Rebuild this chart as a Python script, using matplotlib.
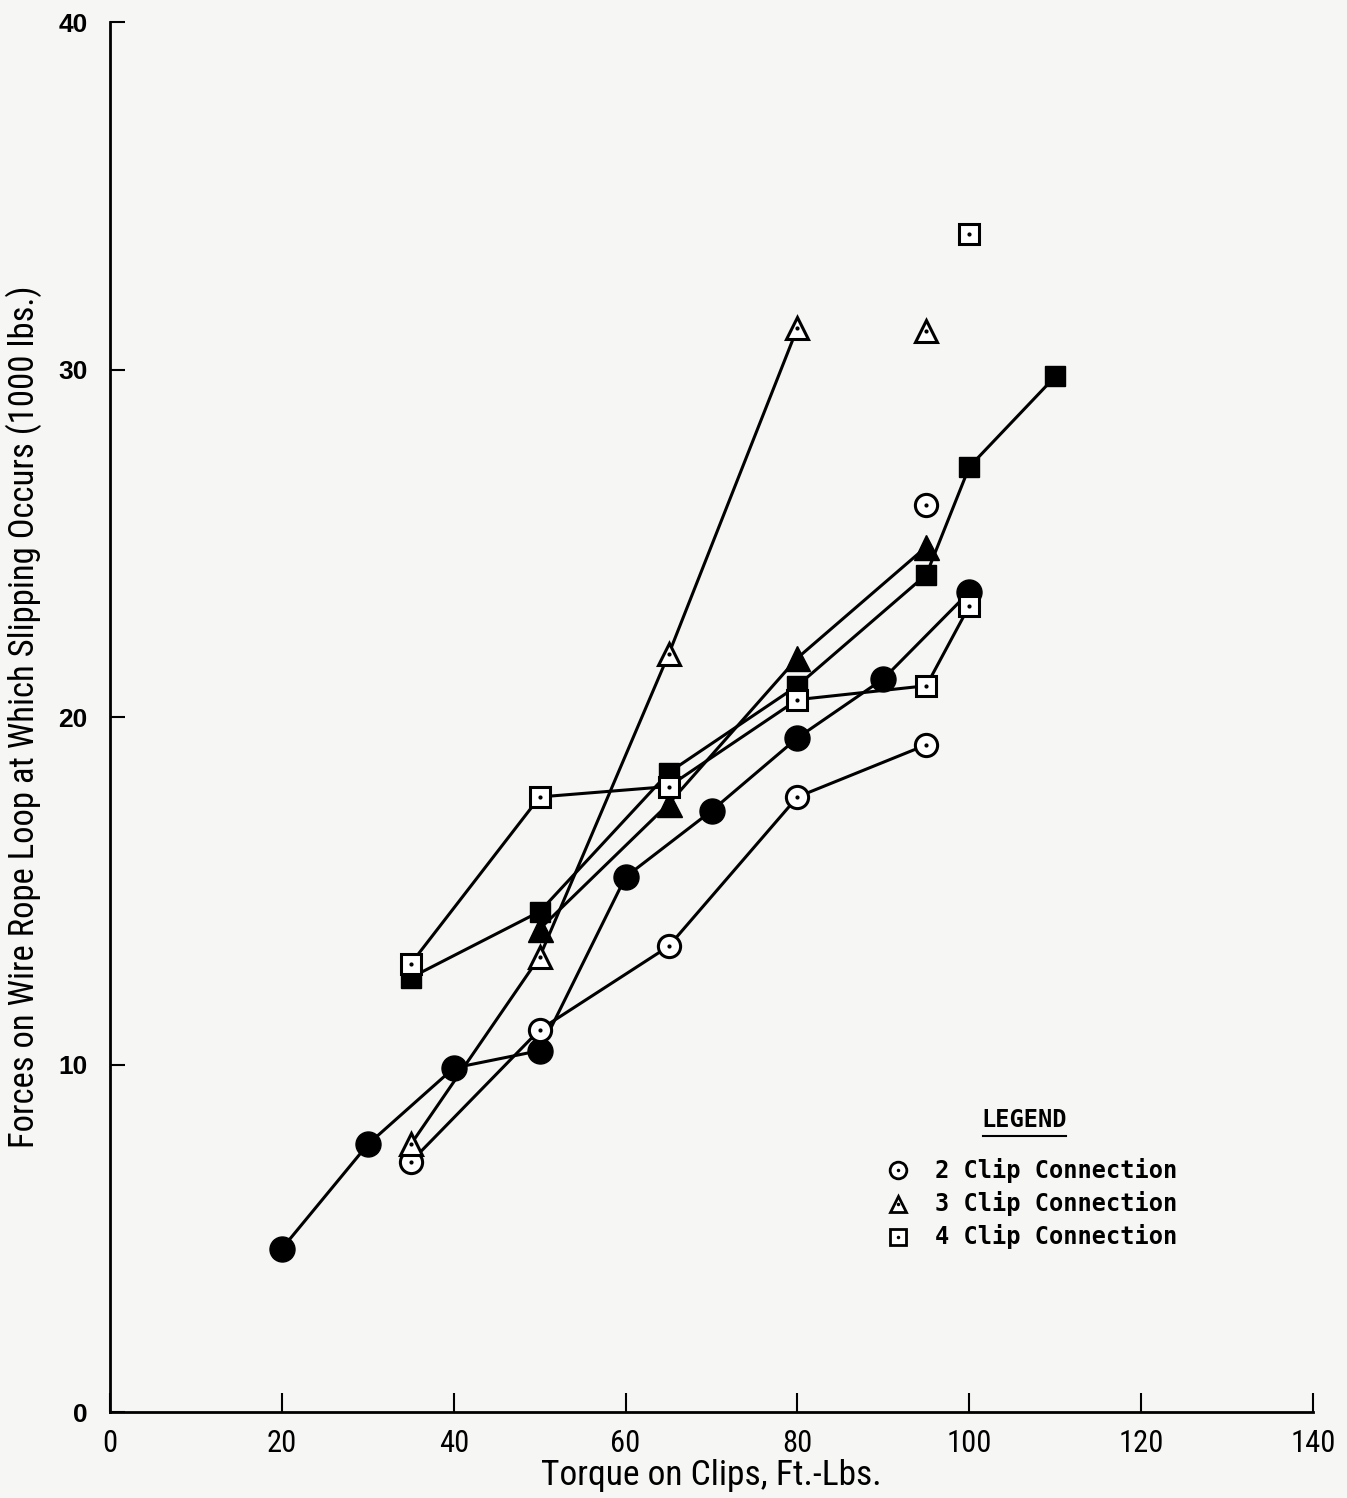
import matplotlib.pyplot as plt
from matplotlib import font_manager

# torque on clips (ft-lbs) and force at slipping (1000 lbs)
torque_fc = [20, 30, 40, 50, 60, 70, 80, 90, 100]
force_fc = [4.7, 7.7, 9.9, 10.4, 15.4, 17.3, 19.4, 21.1, 23.6]

torque_oc = [35, 50, 65, 80, 95]
force_oc = [7.2, 11.0, 13.4, 17.7, 19.2]

torque_ot = [35, 50, 65, 80]
force_ot = [7.7, 13.1, 21.8, 31.2]

torque_ft = [50, 65, 80, 95]
force_ft = [13.9, 17.5, 21.7, 24.9]

torque_fs = [35, 50, 65, 80, 95, 100, 110]
force_fs = [12.5, 14.4, 18.4, 20.9, 24.1, 27.2, 29.8]

torque_os = [35, 50, 65, 80, 95, 100]
force_os = [12.9, 17.7, 18.0, 20.5, 20.9, 23.2]

# loose points, no line through them
loose_torque = [95, 95, 100]
loose_force = [26.1, 31.1, 33.9]
loose_marker = ['o', '^', 's']

legend_labels = ['2 Clip Connection', '3 Clip Connection', '4 Clip Connection']
legend_markers = ['o', '^', 's']

bg = '#f6f6f5'


def have_font(name):
    try:
        font_manager.findfont(name, fallback_to_default=False)
        return True
    except ValueError:
        return False


narrow_opts = ['Liberation Sans Narrow', 'Roboto Condensed', 'DejaVu Sans Condensed']
narrow = [f for f in narrow_opts if have_font(f)] + ['DejaVu Sans']
tick_size = 22 if len(narrow) > 1 else 18


def open_series(ax, x, y, marker, size, line=True):
    if line:
        ax.plot(x, y, color='black', linewidth=2.2, zorder=2)
    ax.plot(x, y, linestyle='none', marker=marker, markersize=size,
            markerfacecolor='white', markeredgecolor='black',
            markeredgewidth=2.2, zorder=4)
    ax.plot(x, y, linestyle='none', marker='.', markersize=4,
            color='black', zorder=5)


def filled_series(ax, x, y, marker, size):
    ax.plot(x, y, color='black', linewidth=2.2, marker=marker,
            markersize=size, markerfacecolor='black',
            markeredgecolor='black', zorder=3)


def fit(fig, text, target, horizontal=True):
    # scale a text so its long side matches the scan
    fig.canvas.draw()
    bb = text.get_window_extent(fig.canvas.get_renderer())
    size = bb.width if horizontal else bb.height
    text.set_fontsize(text.get_fontsize() * target / size)


fig = plt.figure(figsize=(13.47, 14.98), dpi=100, facecolor=bg)
ax = fig.add_axes([0.0817, 0.0574, 0.8931, 0.9279], facecolor=bg)

filled_series(ax, torque_fc, force_fc, 'o', 18)
filled_series(ax, torque_ft, force_ft, '^', 18)
filled_series(ax, torque_fs, force_fs, 's', 15)
open_series(ax, torque_oc, force_oc, 'o', 16)
open_series(ax, torque_ot, force_ot, '^', 16)
open_series(ax, torque_os, force_os, 's', 14)
for x, y, m in zip(loose_torque, loose_force, loose_marker):
    open_series(ax, [x], [y], m, 16 if m != 's' else 14, line=False)

ax.set_xlim(0, 140)
ax.set_ylim(0, 40)
ax.set_xticks(range(0, 141, 20))
ax.set_yticks(range(0, 41, 10))
ax.spines['top'].set_visible(False)
ax.spines['right'].set_visible(False)
ax.spines['left'].set_linewidth(2)
ax.spines['bottom'].set_linewidth(2)
ax.tick_params(axis='x', direction='in', length=14, width=1.5, pad=12)
ax.tick_params(axis='y', direction='in', length=11, width=1.5, pad=16)
for lab in ax.get_xticklabels():
    lab.set_family(narrow)
    lab.set_fontsize(tick_size)
for lab in ax.get_yticklabels():
    lab.set_family(['Liberation Sans', 'DejaVu Sans'])
    lab.set_fontweight('bold')
    lab.set_fontsize(19)

ax.set_xlabel('Torque on Clips, Ft.-Lbs.', family=narrow, fontsize=21, labelpad=1)
ax.set_ylabel('Forces on Wire Rope Loop at Which Slipping Occurs (1000 lbs.)',
              family=narrow, fontsize=21, labelpad=12)

# hand-made legend block, as in the original
ax.text(106.4, 8.4, 'LEGEND', family='DejaVu Sans Mono', fontweight='bold',
        fontsize=17, ha='center', va='center')
ax.plot([101.6, 111.2], [7.95, 7.95], color='black', linewidth=1.5)
for i, (m, lab) in enumerate(zip(legend_markers, legend_labels)):
    yy = 6.96 - i * 0.96
    ax.plot(91.7, yy, marker=m, markersize=12 if m != 's' else 11,
            markerfacecolor='white', markeredgecolor='black', markeredgewidth=2)
    ax.plot(91.7, yy, marker='.', markersize=3, color='black')
    ax.text(96.0, yy, lab, family='DejaVu Sans Mono', fontweight='bold',
            fontsize=17, ha='left', va='center')

fit(fig, ax.yaxis.label, 860, horizontal=False)
fit(fig, ax.xaxis.label, 340)

fig.savefig('out.png', dpi=100, facecolor=bg)
